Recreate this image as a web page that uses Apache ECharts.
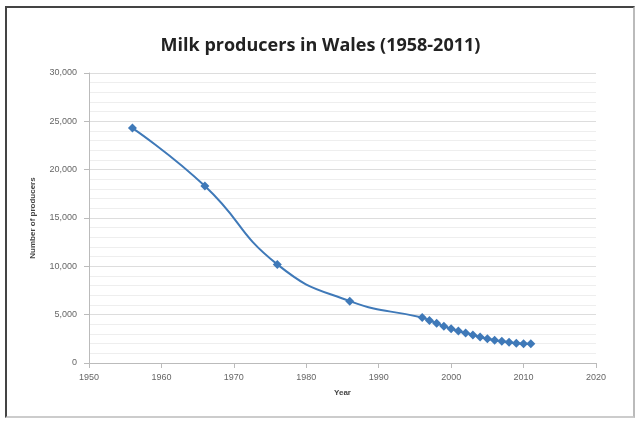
<!DOCTYPE html>
<html><head><meta charset="utf-8">
<script src="https://cdn.jsdelivr.net/npm/echarts@6/dist/echarts.min.js"></script>
<style>
html,body{margin:0;padding:0;background:#fff;}
#frame{position:absolute;left:5px;top:6px;width:630px;height:412px;border:2px solid #444;box-sizing:border-box;border-right-color:#bbb;border-bottom-color:#ccc;}
#c{position:absolute;left:0;top:0;width:641px;height:423px;}
</style></head>
<body>
<div id="frame"></div>
<div id="c"></div>
<script>
var years = [1956, 1966, 1976, 1986, 1996, 1997, 1998, 1999, 2000, 2001, 2002, 2003, 2004, 2005, 2006, 2007, 2008, 2009, 2010, 2011];
var producers = [24300, 18300, 10200, 6400, 4700, 4400, 4100, 3800, 3550, 3300, 3100, 2900, 2700, 2500, 2350, 2250, 2150, 2050, 2000, 1980];
var chart = echarts.init(document.getElementById('c'));
chart.setOption({
  animation: false,
  title: {text: 'Milk producers in Wales (1958-2011)', left: 'center', top: 32,
    textStyle: {fontFamily: 'Open Sans', fontSize: 18, fontWeight: 'bold', color: '#222'}},
  grid: {left: 89, right: 45, top: 73, bottom: 60},
  xAxis: {type: 'value', min: 1950, max: 2020, interval: 10,
    name: 'Year', nameLocation: 'middle', nameGap: 26,
    nameTextStyle: {fontSize: 8, fontWeight: 'bold', color: '#444'},
    axisLine: {lineStyle: {color: '#bbb'}}, axisTick: {show: true, lineStyle: {color: '#bbb'}},
    axisLabel: {fontSize: 9, color: '#666', margin: 10, formatter: function(v){return String(v);}},
    splitLine: {show: false}},
  yAxis: {type: 'value', min: 0, max: 30000, interval: 5000,
    name: 'Number of producers', nameLocation: 'middle', nameGap: 52,
    nameTextStyle: {fontSize: 8, fontWeight: 'bold', color: '#444'},
    axisLine: {show: true, lineStyle: {color: '#bbb'}}, axisTick: {show: true, lineStyle: {color: '#bbb'}},
    axisLabel: {fontSize: 9, color: '#666', margin: 12,
      formatter: function(v){return v.toLocaleString('en-US');}},
    splitLine: {lineStyle: {color: '#ddd'}},
    minorTick: {show: false, splitNumber: 5},
    minorSplitLine: {show: true, lineStyle: {color: '#eee'}}},
  series: [{type: 'line', smooth: true,
    data: years.map(function(y, i){return [y, producers[i]];}),
    symbol: 'diamond', symbolSize: 9,
    lineStyle: {color: '#3f79b8', width: 2},
    itemStyle: {color: '#3f79b8'}}]
});
</script>
</body></html>
